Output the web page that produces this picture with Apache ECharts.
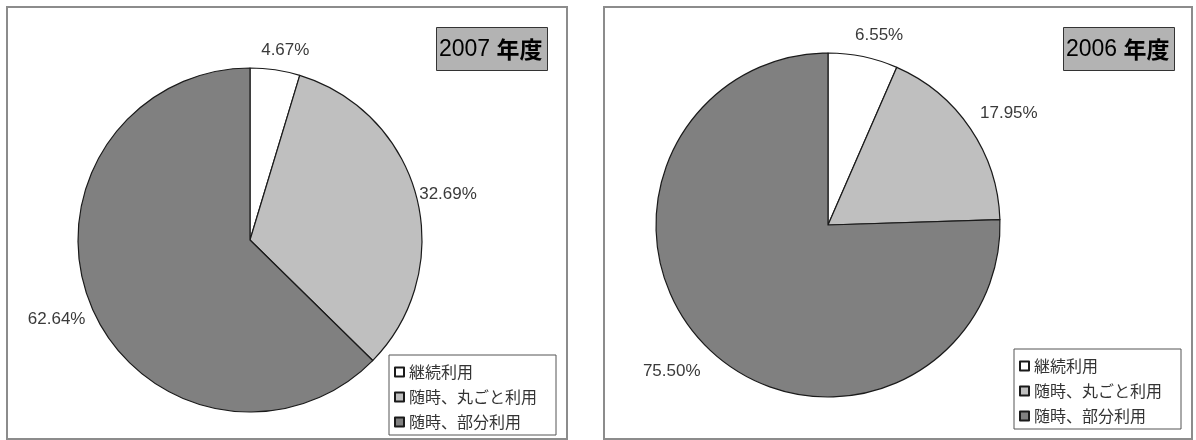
<!DOCTYPE html>
<html>
<head>
<meta charset="utf-8">
<script src="https://cdn.jsdelivr.net/npm/echarts@6/dist/echarts.min.js"></script>
<style>
  html, body { margin: 0; padding: 0; background: #ffffff; }
  #chart { width: 1196px; height: 440px; }
</style>
</head>
<body>
<div id="chart"></div>
<script>
// Usage categories (shared by both years)
const categories = ['継続利用', '随時、丸ごと利用', '随時、部分利用'];
// Share of each usage type, in percent
const values2007 = [4.67, 32.69, 62.64];
const values2006 = [6.55, 17.95, 75.50];
const yearTitles = ['2007', '2006'];
const sliceColors = ['#ffffff', '#bfbfbf', '#808080'];

// Small nudges applied to the automatically placed percentage labels,
// one [dx, dy] per slice, per pie
const labelNudges = [
  [[-21, -6], [-16, 0], [12, 7]],
  [[-16, -8], [-7, -7], [7, 13]]
];

const latin = "'Liberation Sans', Arial, 'Noto Sans CJK JP', sans-serif";
const cjk = "'Noto Sans CJK JP', sans-serif";

function toData(values) {
  return values.map((v, i) => ({
    name: categories[i],
    value: v,
    itemStyle: { color: sliceColors[i] }
  }));
}

function pieSeries(values, center, nudges) {
  return {
    type: 'pie',
    center: center,
    radius: 172,
    startAngle: 90,
    clockwise: true,
    silent: true,
    data: toData(values),
    itemStyle: { borderColor: '#1a1a1a', borderWidth: 1.2 },
    label: {
      show: true,
      position: 'outside',
      formatter: p => p.value.toFixed(2) + '%',
      color: '#3a3a3a',
      fontFamily: latin,
      fontSize: 17
    },
    labelLine: { show: false, length: 14, length2: 0 },
    labelLayout: p => ({ dx: nudges[p.dataIndex][0], dy: nudges[p.dataIndex][1] }),
    emphasis: { disabled: true }
  };
}

function yearTitle(year, left) {
  return {
    text: '{y|' + year + ' }{n|年度}',
    left: left,
    top: 27,
    padding: [11, 5, 10, 3],
    backgroundColor: '#b3b3b3',
    borderColor: '#333333',
    borderWidth: 1,
    textStyle: {
      rich: {
        y: { fontFamily: latin, fontSize: 23, fontWeight: 'normal', color: '#000000' },
        n: { fontFamily: cjk, fontSize: 23, fontWeight: 'bold', color: '#000000' }
      }
    }
  };
}

function legendBox(left, top) {
  return {
    orient: 'vertical',
    left: left,
    top: top,
    data: categories,
    selectedMode: false,
    icon: 'rect',
    itemWidth: 9,
    itemHeight: 9,
    itemGap: 9,
    padding: [9, 19, 5, 5],
    borderColor: '#555555',
    borderWidth: 1,
    backgroundColor: '#ffffff',
    textStyle: { fontFamily: cjk, fontSize: 16, color: '#333333' }
  };
}

const chart = echarts.init(document.getElementById('chart'), null, { renderer: 'canvas' });
chart.setOption({
  animation: false,
  backgroundColor: '#ffffff',
  graphic: [
    { type: 'rect', shape: { x: 7, y: 7, width: 560, height: 432 },
      style: { fill: 'none', stroke: '#8c8c8c', lineWidth: 2 }, z: -1 },
    { type: 'rect', shape: { x: 604, y: 7, width: 588, height: 432 },
      style: { fill: 'none', stroke: '#8c8c8c', lineWidth: 2 }, z: -1 }
  ],
  title: [yearTitle(yearTitles[0], 436), yearTitle(yearTitles[1], 1063)],
  legend: [legendBox(389, 355), legendBox(1014, 349)],
  series: [
    pieSeries(values2007, [250, 240], labelNudges[0]),
    pieSeries(values2006, [828, 225], labelNudges[1])
  ]
});
</script>
</body>
</html>
